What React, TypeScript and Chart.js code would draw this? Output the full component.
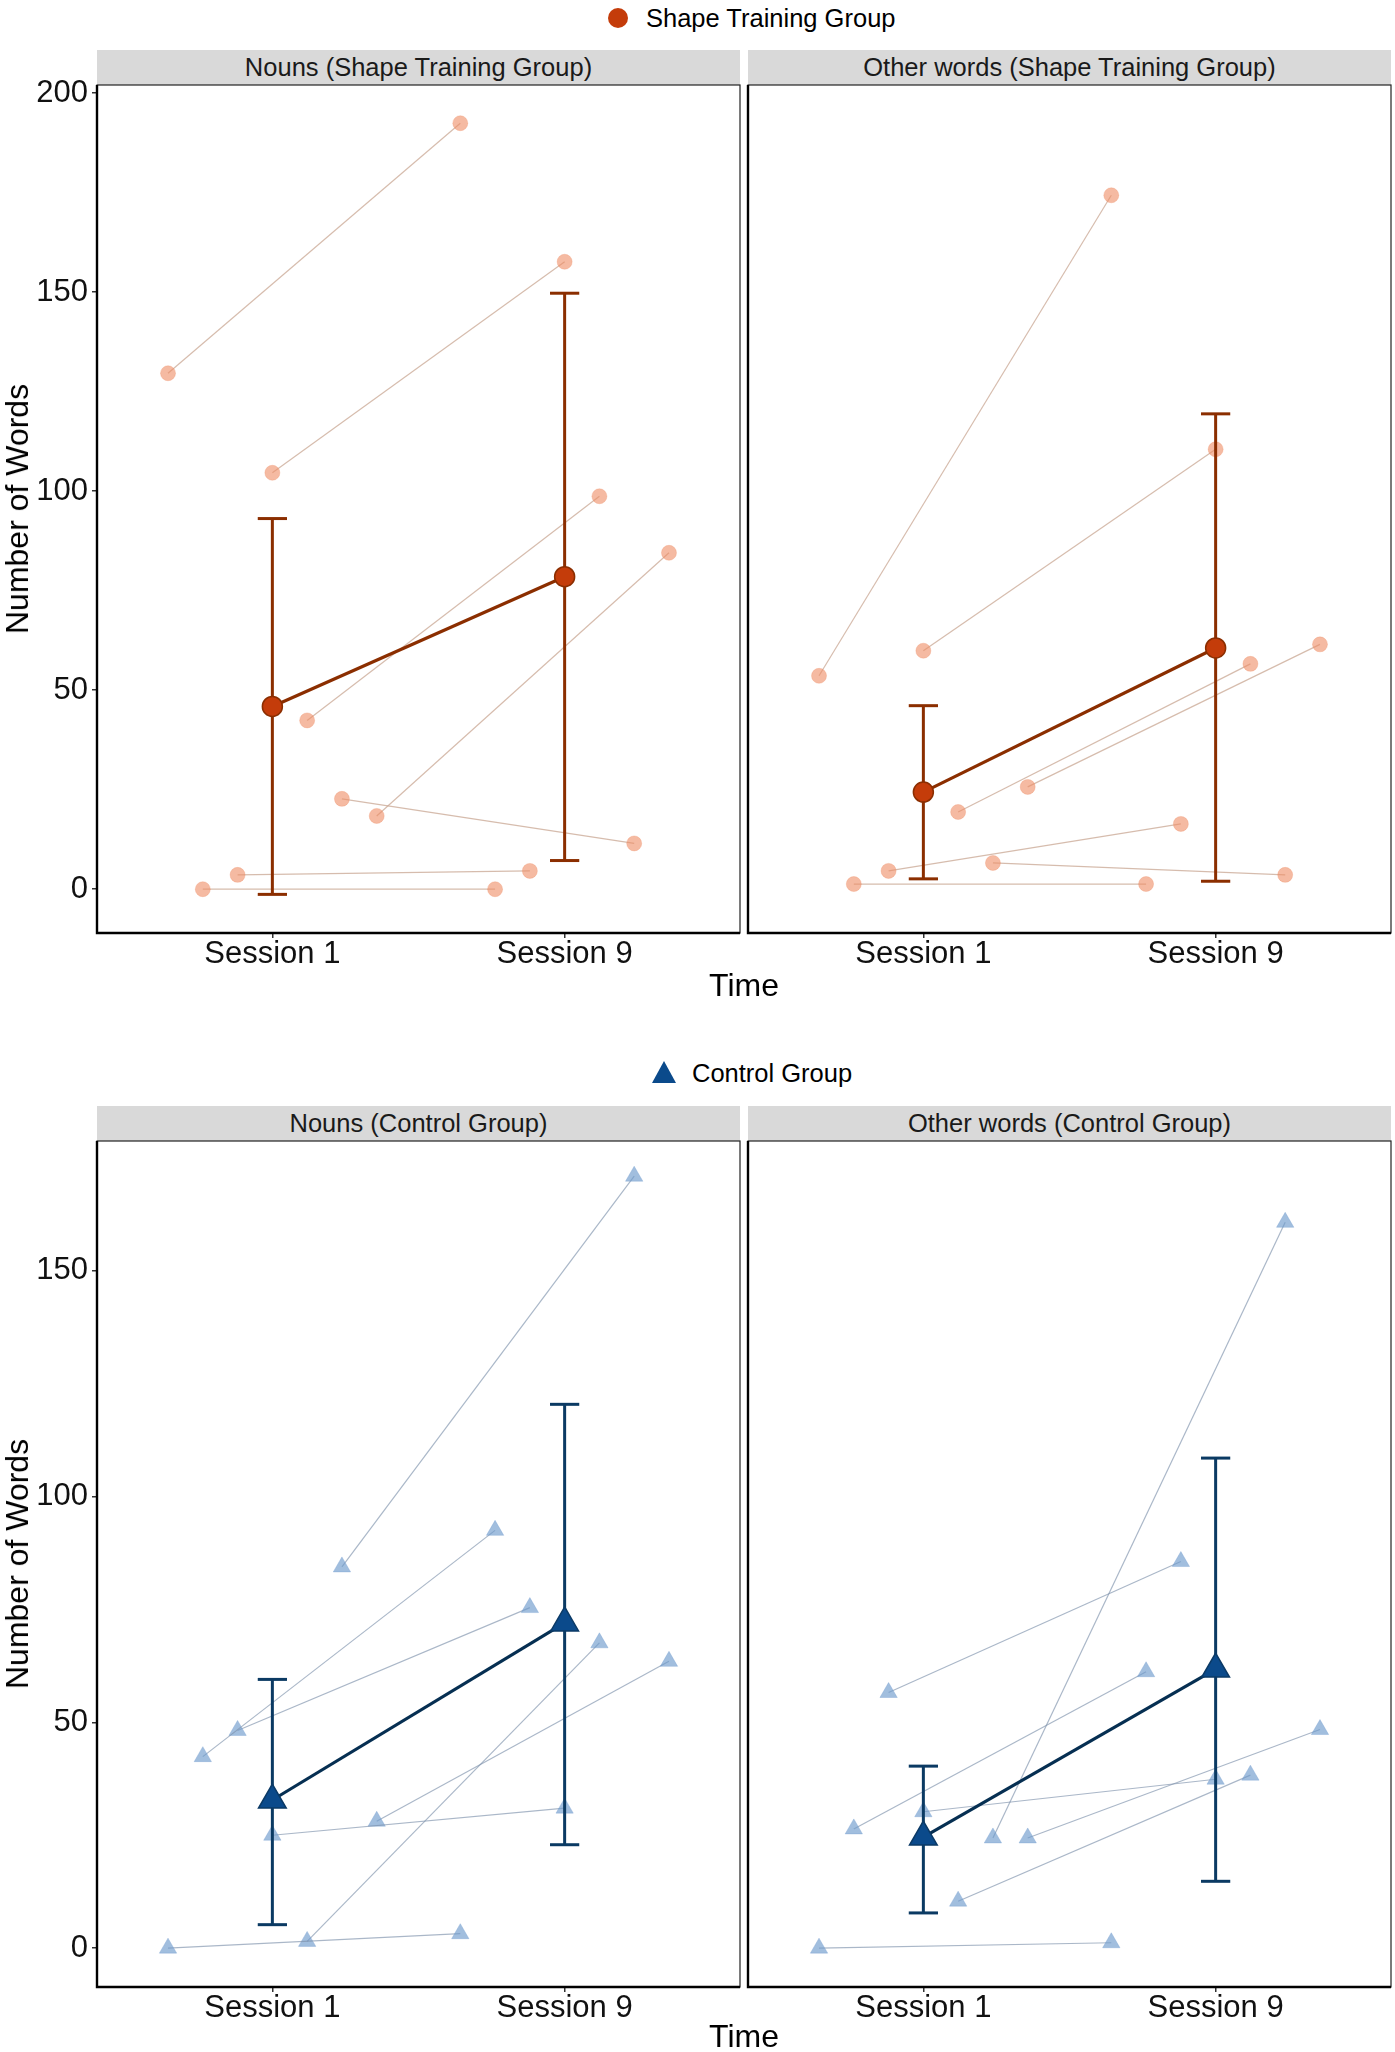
import React, { useEffect, useRef } from "react";
import { Chart, registerables } from "chart.js";

Chart.register(...registerables);

const FONT = '"Liberation Sans", Arial, Helvetica, sans-serif';

const sessions = ["Session 1", "Session 9"];
// per-participant dodge, in x units
const dodge = [-0.357, -0.238, -0.119, 0, 0.119, 0.238, 0.357];

const shapeTicks = [0, 50, 100, 150, 200];
const controlTicks = [0, 50, 100, 150];

// Shape Training Group - nouns
const shapeNounsS1 = [129.6, 0, 3.6, 104.6, 42.4, 22.7, 18.4];
const shapeNounsS9 = [192.4, 0, 4.6, 157.6, 98.7, 11.5, 84.5];
const shapeNounsMean = [45.9, 78.5];
const shapeNounsLow = [-1.3, 7.2];
const shapeNounsHigh = [93.1, 149.7];

// Shape Training Group - other words
const shapeOtherS1 = [53.6, 1.3, 4.6, 59.9, 19.4, 6.6, 25.7];
const shapeOtherS9 = [174.3, 1.3, 16.4, 110.5, 56.6, 3.6, 61.5];
const shapeOtherMean = [24.4, 60.6];
const shapeOtherLow = [2.6, 2.0];
const shapeOtherHigh = [46.1, 119.4];

// Control Group - nouns
const controlNounsS1 = [0, 42.4, 48.2, 25, 1.5, 84.4, 28.1];
const controlNounsS9 = [3.2, 92.5, 75.4, 31, 67.6, 170.9, 63.5];
const controlNounsMean = [32.8, 72.0];
const controlNounsLow = [5.2, 22.9];
const controlNounsHigh = [59.5, 120.4];

// Control Group - other words
const controlOtherS1 = [0, 26.4, 56.6, 30.2, 10.4, 24.4, 24.4];
const controlOtherS9 = [1.2, 61.2, 85.6, 37.4, 38.3, 160.7, 48.4];
const controlOtherMean = [24.6, 61.8];
const controlOtherLow = [7.8, 14.8];
const controlOtherHigh = [40.3, 108.5];

const styles = {
  shape: {
    shape: "circle",
    thin: "rgba(200,165,145,0.75)",
    dot: "rgba(238,140,100,0.6)",
    smallR: 7.5,
    bar: "#8B2E00",
    meanLine: "#8B2E00",
    meanFill: "#C43C0A",
    meanEdge: "#8B2E00",
    bigR: 10,
  },
  control: {
    shape: "triangle",
    thin: "rgba(125,145,170,0.65)",
    dot: "rgba(110,155,205,0.65)",
    smallR: 10,
    bar: "#0B3A63",
    meanLine: "#062F52",
    meanFill: "#0B4A8B",
    meanEdge: "#0B3A66",
    bigR: 16,
  },
};

const PAD_TOP = 20;

const panelBorder = {
  id: "panelBorder",
  afterDraw(chart: any) {
    const { ctx, chartArea: a } = chart;
    ctx.save();
    ctx.strokeStyle = "#222";
    ctx.lineWidth = 1.2;
    ctx.strokeRect(a.left, a.top, a.right - a.left, a.bottom - a.top);
    ctx.lineWidth = 2.4;
    ctx.strokeStyle = "#000";
    ctx.beginPath();
    ctx.moveTo(a.left, a.top);
    ctx.lineTo(a.left, a.bottom);
    ctx.lineTo(a.right, a.bottom);
    ctx.stroke();
    ctx.restore();
  },
};

const noPadding = (s: any) => {
  s.paddingTop = 0;
  s.paddingBottom = 0;
  s.paddingLeft = 0;
  s.paddingRight = 0;
};

type PanelProps = {
  s1: number[];
  s9: number[];
  mean: number[];
  low: number[];
  high: number[];
  yMin: number;
  yMax: number;
  yTicks: number[];
  showY: boolean;
  group: "shape" | "control";
  left: number;
  top: number;
  width: number;
  height: number;
};

const Panel = (props: PanelProps) => {
  const canvasRef = useRef<HTMLCanvasElement>(null);

  useEffect(() => {
    if (!canvasRef.current) return;
    const st = styles[props.group];
    const capHalf = 0.05;
    const datasets: any[] = [];

    props.s1.forEach((v, i) => {
      datasets.push({
        data: [
          { x: 1 + dodge[i], y: v },
          { x: 2 + dodge[i], y: props.s9[i] },
        ],
        borderColor: st.thin,
        borderWidth: 1.2,
        pointStyle: st.shape,
        pointRadius: st.smallR,
        pointBackgroundColor: st.dot,
        pointBorderColor: st.dot,
        pointBorderWidth: 0.5,
        order: 10,
      });
    });

    sessions.forEach((_, j) => {
      const x = j + 1;
      datasets.push({
        data: [
          { x, y: props.low[j] },
          { x, y: props.high[j] },
        ],
        borderColor: st.bar,
        borderWidth: 3,
        pointRadius: 0,
        order: 2,
      });
      [props.low[j], props.high[j]].forEach((y) => {
        datasets.push({
          data: [
            { x: x - capHalf, y },
            { x: x + capHalf, y },
          ],
          borderColor: st.bar,
          borderWidth: 3,
          pointRadius: 0,
          order: 2,
        });
      });
    });

    datasets.push({
      data: props.mean.map((y, j) => ({ x: j + 1, y })),
      borderColor: st.meanLine,
      borderWidth: 3.2,
      pointStyle: st.shape,
      pointRadius: st.bigR,
      pointBackgroundColor: st.meanFill,
      pointBorderColor: st.meanEdge,
      pointBorderWidth: 1.5,
      order: 0,
    });

    const chart = new Chart(canvasRef.current, {
      type: "line",
      data: { datasets },
      options: {
        animation: false,
        responsive: true,
        maintainAspectRatio: false,
        layout: {
          autoPadding: false,
          padding: { left: props.showY ? 0 : 4, top: PAD_TOP, right: 4, bottom: 0 },
        },
        plugins: { legend: { display: false }, tooltip: { enabled: false } },
        scales: {
          x: {
            type: "linear",
            min: 0.4,
            max: 2.6,
            afterBuildTicks: (s: any) => {
              s.ticks = [1, 2].map((value) => ({ value }));
            },
            afterFit: (s: any) => {
              s.height = 45;
              noPadding(s);
            },
            ticks: {
              callback: (_v: any, i: number) => sessions[i],
              font: { family: FONT, size: 31, lineHeight: 1 },
              color: "#111",
              padding: 1,
              maxRotation: 0,
              autoSkip: false,
            },
            grid: { drawOnChartArea: false, tickLength: 5, color: "#333", lineWidth: 1.5 },
            border: { display: false },
          },
          y: {
            type: "linear",
            min: props.yMin,
            max: props.yMax,
            display: props.showY,
            afterBuildTicks: (s: any) => {
              s.ticks = props.yTicks.map((value) => ({ value }));
            },
            afterFit: (s: any) => {
              s.width = props.showY ? 97 : 0;
              noPadding(s);
            },
            ticks: {
              font: { family: FONT, size: 31 },
              color: "#111",
              padding: 4,
            },
            grid: { drawOnChartArea: false, tickLength: 5, color: "#333", lineWidth: 1.5 },
            border: { display: false },
          },
        },
      },
      plugins: [panelBorder],
    } as any);

    return () => {
      chart.destroy();
    };
  }, []);

  return (
    <div
      style={{
        position: "absolute",
        left: props.left,
        top: props.top,
        width: props.width,
        height: props.height,
      }}
    >
      <canvas ref={canvasRef} />
    </div>
  );
};

const Strip = (p: { left: number; top: number; text: string }) => (
  <div
    style={{
      position: "absolute",
      left: p.left,
      top: p.top,
      width: 643,
      height: 35,
      background: "#D9D9D9",
      color: "#1a1a1a",
      fontFamily: FONT,
      fontSize: 25.5,
      lineHeight: "35px",
      textAlign: "center",
      whiteSpace: "nowrap",
    }}
  >
    {p.text}
  </div>
);

const Label = (p: { x: number; y: number; text: string; size: number; rotate?: boolean }) => (
  <div
    style={{
      position: "absolute",
      left: p.x,
      top: p.y,
      transform: `translate(-50%, -50%)${p.rotate ? " rotate(-90deg)" : ""}`,
      whiteSpace: "nowrap",
      fontFamily: FONT,
      fontSize: p.size,
      lineHeight: 1,
      color: "#000",
    }}
  >
    {p.text}
  </div>
);

const App = () => {
  const topT = 85;
  const topH = 848;
  const botT = 1141;
  const botH = 846;

  return (
    <div
      style={{
        position: "absolute",
        left: 0,
        top: 0,
        width: 1395,
        height: 2052,
        background: "#fff",
        overflow: "hidden",
      }}
    >
      {/* legend: shape group */}
      <div
        style={{
          position: "absolute",
          left: 608,
          top: 8,
          width: 20,
          height: 20,
          borderRadius: "50%",
          background: "#C43C0A",
        }}
      />
      <div style={{ position: "absolute", left: 646, top: 3, fontFamily: FONT, fontSize: 25.5, lineHeight: "30px" }}>
        Shape Training Group
      </div>

      <Strip left={97} top={50} text="Nouns (Shape Training Group)" />
      <Strip left={748} top={50} text="Other words (Shape Training Group)" />

      <Panel
        s1={shapeNounsS1}
        s9={shapeNounsS9}
        mean={shapeNounsMean}
        low={shapeNounsLow}
        high={shapeNounsHigh}
        yMin={-11}
        yMax={202}
        yTicks={shapeTicks}
        showY={true}
        group="shape"
        left={0}
        top={topT - PAD_TOP}
        width={744}
        height={topH + PAD_TOP + 45}
      />
      <Panel
        s1={shapeOtherS1}
        s9={shapeOtherS9}
        mean={shapeOtherMean}
        low={shapeOtherLow}
        high={shapeOtherHigh}
        yMin={-11}
        yMax={202}
        yTicks={shapeTicks}
        showY={false}
        group="shape"
        left={744}
        top={topT - PAD_TOP}
        width={651}
        height={topH + PAD_TOP + 45}
      />

      <Label x={744} y={985} text="Time" size={32} />
      <Label x={17} y={509} text="Number of Words" size={32} rotate />

      {/* legend: control group */}
      <svg style={{ position: "absolute", left: 651, top: 1060 }} width={26} height={24}>
        <polygon points="13,1 25,23 1,23" fill="#0B4A8B" />
      </svg>
      <div style={{ position: "absolute", left: 692, top: 1058, fontFamily: FONT, fontSize: 25.5, lineHeight: "30px" }}>
        Control Group
      </div>

      <Strip left={97} top={1106} text="Nouns (Control Group)" />
      <Strip left={748} top={1106} text="Other words (Control Group)" />

      <Panel
        s1={controlNounsS1}
        s9={controlNounsS9}
        mean={controlNounsMean}
        low={controlNounsLow}
        high={controlNounsHigh}
        yMin={-8.6}
        yMax={178.7}
        yTicks={controlTicks}
        showY={true}
        group="control"
        left={0}
        top={botT - PAD_TOP}
        width={744}
        height={botH + PAD_TOP + 45}
      />
      <Panel
        s1={controlOtherS1}
        s9={controlOtherS9}
        mean={controlOtherMean}
        low={controlOtherLow}
        high={controlOtherHigh}
        yMin={-8.6}
        yMax={178.7}
        yTicks={controlTicks}
        showY={false}
        group="control"
        left={744}
        top={botT - PAD_TOP}
        width={651}
        height={botH + PAD_TOP + 45}
      />

      <Label x={744} y={2036} text="Time" size={32} />
      <Label x={17} y={1564} text="Number of Words" size={32} rotate />
    </div>
  );
};

export default App;
